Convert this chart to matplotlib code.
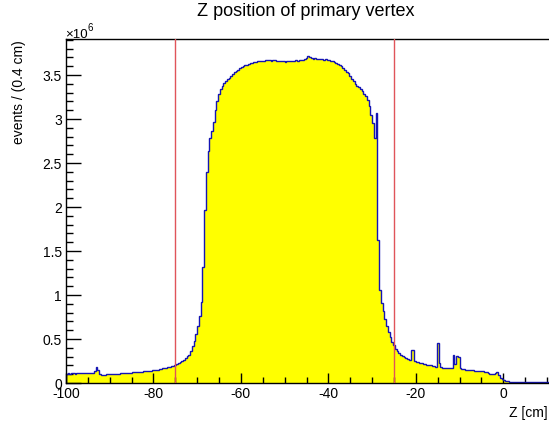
import numpy as np
import matplotlib
matplotlib.use('Agg')
from matplotlib import pyplot as plt
from matplotlib.ticker import MultipleLocator, FuncFormatter

plt.rcParams['font.family'] = ['Liberation Sans', 'DejaVu Sans']

# Z of primary vertex, 0.4 cm bins starting at -100 cm, contents in units of 1e6
bin_width = 0.4
z_start = -100.0
counts_1e6 = [
    # -100 .. -96
    0.108, 0.110, 0.107, 0.109, 0.111, 0.108, 0.110, 0.112, 0.109, 0.111,
    # -96 .. -92
    0.110, 0.112, 0.111, 0.113, 0.112, 0.114, 0.140, 0.185, 0.150, 0.100,
    # -92 .. -88
    0.093, 0.094, 0.096, 0.097, 0.099, 0.100, 0.102, 0.103, 0.105, 0.106,
    # -88 .. -84
    0.108, 0.109, 0.111, 0.112, 0.114, 0.115, 0.117, 0.118, 0.120, 0.121,
    # -84 .. -80
    0.123, 0.125, 0.127, 0.129, 0.131, 0.133, 0.135, 0.138, 0.141, 0.144,
    # -80 .. -76
    0.147, 0.150, 0.153, 0.157, 0.161, 0.165, 0.170, 0.175, 0.180, 0.186,
    # -76 .. -72
    0.192, 0.199, 0.207, 0.216, 0.226, 0.237, 0.250, 0.265, 0.282, 0.302,
    # -72 .. -68
    0.320, 0.360, 0.420, 0.480, 0.560, 0.650, 0.760, 0.920, 1.320, 1.970,
    # -68 .. -64
    2.400, 2.640, 2.790, 2.870, 2.970, 3.100, 3.200, 3.290, 3.340, 3.380,
    # -64 .. -60
    3.410, 3.430, 3.450, 3.470, 3.490, 3.510, 3.530, 3.550, 3.560, 3.580,
    # -60 .. -56
    3.590, 3.600, 3.610, 3.620, 3.630, 3.635, 3.640, 3.645, 3.650, 3.655,
    # -56 .. -52
    3.660, 3.660, 3.665, 3.665, 3.670, 3.670, 3.670, 3.665, 3.670, 3.670,
    # -52 .. -48
    3.665, 3.665, 3.660, 3.660, 3.655, 3.650, 3.655, 3.660, 3.660, 3.665,
    # -48 .. -44
    3.665, 3.670, 3.665, 3.670, 3.675, 3.675, 3.680, 3.695, 3.720, 3.700,
    # -44 .. -40
    3.690, 3.685, 3.690, 3.685, 3.680, 3.685, 3.680, 3.675, 3.680, 3.675,
    # -40 .. -36
    3.670, 3.665, 3.660, 3.650, 3.640, 3.630, 3.620, 3.600, 3.580, 3.560,
    # -36 .. -32
    3.540, 3.520, 3.490, 3.460, 3.430, 3.400, 3.380, 3.360, 3.340, 3.320,
    # -32 .. -28
    3.290, 3.260, 3.220, 3.150, 3.050, 2.950, 2.780, 3.070, 1.620, 1.060,
    # -28 .. -24
    0.910, 0.820, 0.730, 0.650, 0.580, 0.520, 0.470, 0.430, 0.390, 0.360,
    # -24 .. -20
    0.340, 0.320, 0.305, 0.290, 0.280, 0.270, 0.260, 0.375, 0.375, 0.245,
    # -20 .. -16
    0.240, 0.235, 0.230, 0.225, 0.220, 0.215, 0.210, 0.205, 0.200, 0.195,
    # -16 .. -12
    0.190, 0.185, 0.450, 0.230, 0.180, 0.175, 0.175, 0.170, 0.170, 0.165,
    # -12 .. -8
    0.165, 0.320, 0.220, 0.310, 0.300, 0.170, 0.160, 0.155, 0.152, 0.150,
    # -8 .. -4
    0.148, 0.146, 0.144, 0.142, 0.140, 0.138, 0.136, 0.134, 0.132, 0.130,
    # -4 .. 0
    0.120, 0.110, 0.105, 0.100, 0.100, 0.115, 0.120, 0.090, 0.060, 0.040,
    # 0 .. 4
    0.030, 0.022, 0.018, 0.016, 0.015, 0.015, 0.014, 0.014, 0.013, 0.013,
    # 4 .. 8
    0.013, 0.012, 0.012, 0.012, 0.011, 0.011, 0.011, 0.011, 0.010, 0.010,
    # 8 .. 10.8
    0.010, 0.010, 0.010, 0.009, 0.009, 0.009, 0.009,
]
cut_lines = [-75.0, -25.0]
x_range = (-100.0, 10.45)
y_range = (0.0, 3.91)

counts = np.array(counts_1e6)
edges = z_start + bin_width * np.arange(len(counts) + 1)

fig = plt.figure(figsize=(5.49, 4.25), dpi=100)
ax = fig.add_axes([0.1202, 0.0988, 0.8798, 0.8094])

ax.stairs(counts, edges, fill=True, color='#ffff00', zorder=1)
ax.stairs(counts, edges, color='#1414b4', linewidth=1.0, zorder=2)
for zc in cut_lines:
    ax.axvline(zc, color='#e0545a', linewidth=1.0, zorder=3)

ax.set_xlim(*x_range)
ax.set_ylim(*y_range)

ax.xaxis.set_major_locator(MultipleLocator(20))
ax.xaxis.set_minor_locator(MultipleLocator(5))
ax.yaxis.set_major_locator(MultipleLocator(0.5))
ax.yaxis.set_minor_locator(MultipleLocator(0.1))
ax.yaxis.set_major_formatter(FuncFormatter(lambda v, p: '%g' % v))
ax.xaxis.set_major_formatter(FuncFormatter(lambda v, p: '%g' % v))

ax.tick_params(axis='both', which='both', direction='in', labelsize=10,
               width=1.0, color='black', pad=3)
ax.tick_params(axis='y', which='major', length=10.5)
ax.tick_params(axis='y', which='minor', length=5)
ax.tick_params(axis='x', which='major', length=7.5)
ax.tick_params(axis='x', which='minor', length=4)

ax.spines['right'].set_visible(False)
for s in ['left', 'bottom', 'top']:
    ax.spines[s].set_linewidth(1.0)

fig.text(306 / 549, 1 - 11 / 425, 'Z position of primary vertex',
         ha='center', va='center', fontsize=13)
fig.text(548 / 549, 1 - 413 / 425, 'Z [cm]', ha='right', va='center', fontsize=10)
fig.text(19 / 549, 1 - 40 / 425, 'events / (0.4 cm)', rotation=90,
         ha='center', va='top', fontsize=10)
fig.text(65 / 549, 1 - 38 / 425, '\u00d710', ha='left', va='baseline', fontsize=9.5)
fig.text(88 / 549, 1 - 31 / 425, '6', ha='left', va='baseline', fontsize=7)

fig.savefig('out.png', dpi=100)
